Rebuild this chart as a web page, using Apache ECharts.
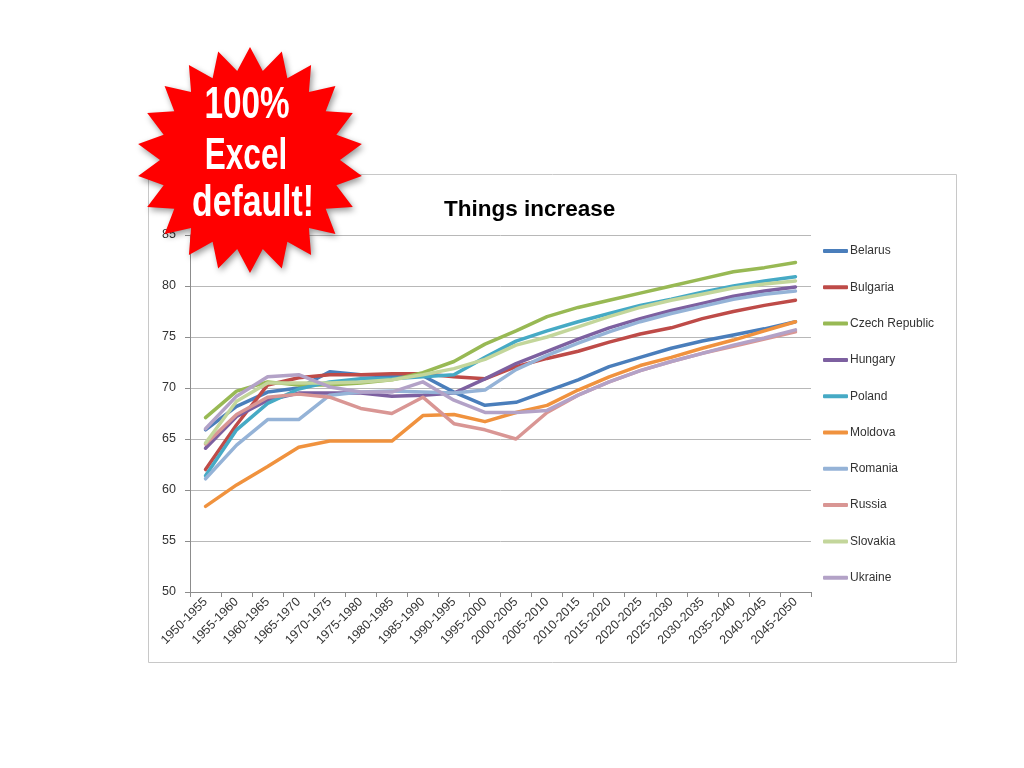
<!DOCTYPE html>
<html><head><meta charset="utf-8">
<script src="https://cdn.jsdelivr.net/npm/echarts@6/dist/echarts.min.js"></script>
<style>html,body{margin:0;padding:0;background:#fff}#c{width:1024px;height:768px}</style>
</head><body><div id="c"></div>
<script>
const categories = ['1950-1955','1955-1960','1960-1965','1965-1970','1970-1975','1975-1980','1980-1985','1985-1990','1990-1995','1995-2000','2000-2005','2005-2010','2010-2015','2015-2020','2020-2025','2025-2030','2030-2035','2035-2040','2040-2045','2045-2050'];
const yTicks = [50,55,60,65,70,75,80,85];

const belarus  = [65.9,68.2,69.6,70.0,71.6,71.3,71.2,71.2,69.6,68.3,68.6,69.7,70.8,72.1,73.0,73.9,74.6,75.2,75.8,76.5];
const bulgaria = [62.0,66.4,70.3,71.0,71.3,71.3,71.4,71.4,71.1,70.9,72.1,72.9,73.6,74.5,75.3,75.9,76.8,77.5,78.1,78.6];
const czech    = [67.1,69.7,70.6,70.3,70.3,70.5,70.8,71.5,72.6,74.3,75.6,77.0,77.9,78.6,79.3,80.0,80.7,81.4,81.8,82.3];
const hungary  = [64.1,67.2,68.8,69.5,69.5,69.5,69.2,69.3,69.5,70.9,72.4,73.6,74.8,75.9,76.8,77.6,78.3,79.0,79.5,79.9];
const poland   = [61.4,65.9,68.5,69.9,70.6,70.9,70.9,71.1,71.3,73.0,74.6,75.6,76.5,77.3,78.1,78.7,79.4,80.0,80.5,80.9];
const moldova  = [58.4,60.5,62.3,64.2,64.8,64.8,64.8,67.3,67.4,66.7,67.6,68.3,69.8,71.1,72.2,73.0,73.9,74.7,75.6,76.5];
const romania  = [61.1,64.4,66.9,66.9,69.3,69.6,69.7,69.6,69.5,69.8,71.8,73.2,74.4,75.5,76.5,77.3,78.0,78.7,79.2,79.5];
const russia   = [64.5,67.4,69.1,69.4,69.1,68.0,67.5,69.1,66.5,65.9,65.0,67.6,69.3,70.6,71.7,72.6,73.4,74.1,74.8,75.5];
const slovakia = [64.6,68.7,70.5,70.5,70.5,70.6,70.8,71.3,71.9,72.8,74.2,75.0,76.0,77.0,77.9,78.6,79.2,79.8,80.2,80.5];
const ukraine  = [66.0,69.2,71.1,71.3,70.1,69.6,69.6,70.6,68.8,67.6,67.6,67.8,69.3,70.6,71.7,72.6,73.4,74.2,74.9,75.7];

const seriesNames = ['Belarus','Bulgaria','Czech Republic','Hungary','Poland','Moldova','Romania','Russia','Slovakia','Ukraine'];
const seriesData = [belarus,bulgaria,czech,hungary,poland,moldova,romania,russia,slovakia,ukraine];
const colors = ['#4A7EBB','#BE4B48','#98B954','#7D60A0','#46AAC5','#F0923E','#95B3D7','#D99694','#C3D69B','#B3A2C7'];

// starburst decoration polygon
const starPts = [];
(function(){
  const cx = 250, cy = 160, R = 113, r = 90, n = 22;
  for (let i = 0; i < n * 2; i++) {
    const a = -Math.PI / 2 + i * Math.PI / n;
    const rad = i % 2 === 0 ? R : r;
    starPts.push([cx + rad * Math.cos(a), cy + rad * Math.sin(a)]);
  }
})();

const chart = echarts.init(document.getElementById('c'), null, {renderer: 'canvas'});
const font = '"Liberation Sans", Arial, sans-serif';
chart.setOption({
  animation: false,
  backgroundColor: '#fff',
  color: colors,
  title: {
    text: 'Things increase', left: 439, top: 193,
    textStyle: {fontFamily: font, fontSize: 22.5, fontWeight: 'bold', color: '#000'}
  },
  grid: {left: 190, right: 213, top: 235, bottom: 176, containLabel: false},
  legend: {
    orient: 'vertical', left: 818, top: 238,
    itemWidth: 25, itemHeight: 4, itemGap: 20.3, icon: 'roundRect',
    textStyle: {fontFamily: font, fontSize: 12, color: '#333', lineHeight: 16, padding: [0,0,0,-3]},
    data: seriesNames
  },
  xAxis: {
    type: 'category', data: categories, boundaryGap: true,
    axisLine: {lineStyle: {color: '#8c8c8c', width: 1}},
    axisTick: {show: true, interval: 0, length: 5, lineStyle: {color: '#8c8c8c'}},
    axisLabel: {interval: 0, rotate: 45, margin: 8, fontFamily: font, fontSize: 12.5, color: '#333'}
  },
  yAxis: {
    type: 'value', min: yTicks[0], max: yTicks[yTicks.length-1], interval: 5,
    axisLine: {show: true, lineStyle: {color: '#8c8c8c', width: 1}},
    axisTick: {show: true, length: 5, lineStyle: {color: '#8c8c8c'}},
    axisLabel: {margin: 14, fontFamily: font, fontSize: 12.5, color: '#333'},
    splitLine: {show: true, lineStyle: {color: '#b8b8b8', width: 1}}
  },
  series: seriesNames.map((name, i) => ({
    name: name, type: 'line', data: seriesData[i], symbol: 'none', smooth: false,
    lineStyle: {width: 3.5, cap: 'round', join: 'round', color: colors[i]},
    itemStyle: {color: colors[i]}
  })),
  graphic: [
    {type: 'rect', z: -1, silent: true, shape: {x: 148.5, y: 174.5, width: 808, height: 488},
     style: {fill: 'none', stroke: '#c8c8c8', lineWidth: 1}},
    {type: 'polygon', z: 100, silent: true, shape: {points: starPts},
     style: {fill: '#ff0000', shadowBlur: 6, shadowOffsetX: 2, shadowOffsetY: 3, shadowColor: 'rgba(0,0,0,0.4)'}},
    {type: 'text', z: 101, silent: true, x: 247, y: 106, scaleX: 0.74,
     style: {text: '100%', fill: '#fff', font: 'bold 45px "Liberation Sans", Arial, sans-serif', align: 'center', verticalAlign: 'middle'}},
    {type: 'text', z: 101, silent: true, x: 246, y: 157, scaleX: 0.7,
     style: {text: 'Excel', fill: '#fff', font: 'bold 45px "Liberation Sans", Arial, sans-serif', align: 'center', verticalAlign: 'middle'}},
    {type: 'text', z: 101, silent: true, x: 253, y: 204, scaleX: 0.75,
     style: {text: 'default!', fill: '#fff', font: 'bold 45px "Liberation Sans", Arial, sans-serif', align: 'center', verticalAlign: 'middle'}}
  ]
});
</script>
</body></html>
